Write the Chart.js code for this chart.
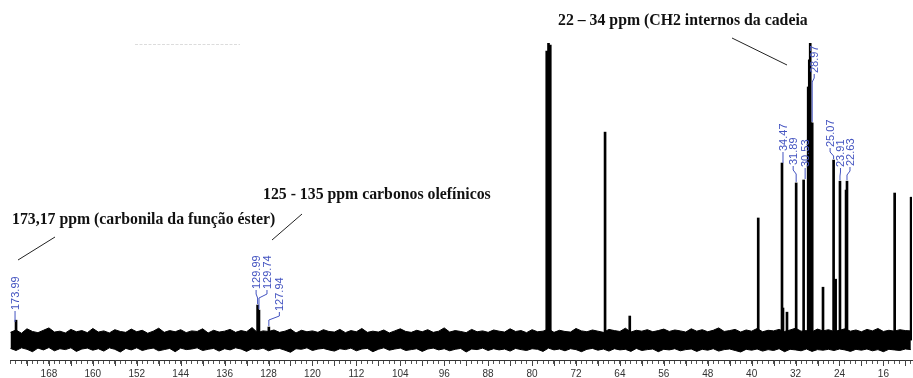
<!DOCTYPE html>
<html>
<head>
<meta charset="utf-8">
<script src="https://cdn.jsdelivr.net/npm/chart.js@4.4.1/dist/chart.umd.min.js"></script>
<style>
  html, body { margin: 0; padding: 0; background: #fff; overflow: hidden; }
  #wrap { width: 913px; height: 378px; position: relative; }
</style>
</head>
<body>
<div id="wrap"><canvas id="nmr"></canvas></div>
<script>
// 13C NMR spectrum, chemical shift in ppm (axis reversed)
const peakPpm = [173.99, 129.99, 129.74, 127.94, 77.32, 77.00, 76.68, 66.7, 62.2, 38.8,
                 34.47, 34.29, 33.56, 31.89, 30.53, 29.70, 29.50, 29.33, 29.15, 28.97,
                 27.0, 25.07, 24.70, 23.91, 22.80, 22.63, 13.95, 10.95];
const peakHeight = [6.7, 11.8, 10.1, 4.4, 97.3, 100, 99.3, 70.0, 8.1, 41.1,
                    59.6, 10.8, 9.4, 52.9, 53.9, 85.2, 94.3, 100, 73.1, 73.1,
                    17.8, 60.6, 20.5, 53.5, 50.5, 53.5, 49.5, 48.1];

// peaks that carry a printed shift label
const labelPpm = [173.99, 129.99, 129.74, 127.94, 34.47, 31.89, 30.53, 28.97, 25.07, 23.91, 22.63];

// baseline noise envelope, 1 ppm steps from 175 to 11
const noisePpm = [175, 174, 173, 172, 171, 170, 169, 168, 167, 166, 165, 164, 163, 162, 161,
                  160, 159, 158, 157, 156, 155, 154, 153, 152, 151, 150, 149, 148, 147, 146,
                  145, 144, 143, 142, 141, 140, 139, 138, 137, 136, 135, 134, 133, 132, 131,
                  130, 129, 128, 127, 126, 125, 124, 123, 122, 121, 120, 119, 118, 117, 116,
                  115, 114, 113, 112, 111, 110, 109, 108, 107, 106, 105, 104, 103, 102, 101,
                  100, 99, 98, 97, 96, 95, 94, 93, 92, 91, 90, 89, 88, 87, 86,
                  85, 84, 83, 82, 81, 80, 79, 78, 77, 76, 75, 74, 73, 72, 71,
                  70, 69, 68, 67, 66, 65, 64, 63, 62, 61, 60, 59, 58, 57, 56,
                  55, 54, 53, 52, 51, 50, 49, 48, 47, 46, 45, 44, 43, 42, 41,
                  40, 39, 38, 37, 36, 35, 34, 33, 32, 31, 30, 29, 28, 27, 26,
                  25, 24, 23, 22, 21, 20, 19, 18, 17, 16, 15, 14, 13, 12, 11];
const noiseUpper = [2.6, 3.4, 2.3, 3.8, 2.9, 2.5, 3.3, 4.1, 2.7, 3.0, 2.4, 3.6, 2.8, 3.2, 2.5,
                    3.9, 2.7, 3.1, 2.4, 3.5, 2.9, 2.6, 3.7, 2.8, 3.3, 2.3, 3.0, 4.0, 2.6, 3.2,
                    2.8, 3.5, 2.5, 3.1, 2.9, 3.8, 2.4, 3.3, 2.7, 3.0, 3.6, 2.6, 3.2, 2.8, 4.2,
                    2.5, 3.1, 2.9, 3.4, 2.6, 3.0, 3.7, 2.4, 3.3, 2.8, 3.1, 2.6, 3.5, 2.9, 2.7,
                    3.6, 2.5, 3.2, 2.8, 3.9, 2.6, 3.0, 2.7, 3.4, 2.4, 3.1, 3.8, 2.9, 2.6, 3.3,
                    2.8, 3.5, 2.6, 3.0, 4.1, 2.7, 3.2, 2.9, 2.5, 3.6, 2.8, 3.1, 2.6, 3.4, 3.0,
                    2.7, 3.8, 2.9, 3.2, 2.5, 3.5, 2.8, 3.0, 3.7, 2.6, 3.3, 2.9, 2.7, 3.9, 3.1,
                    2.8, 3.4, 3.0, 2.6, 3.6, 3.2, 2.9, 4.0, 2.7, 3.3, 3.0, 3.5, 2.8, 3.2, 3.7,
                    2.9, 3.4, 3.1, 2.7, 3.8, 3.0, 3.5, 2.8, 3.3, 4.1, 2.9, 3.2, 3.6, 2.7, 3.4,
                    3.0, 3.9, 2.8, 3.3, 3.1, 3.6, 2.9, 3.4, 4.0, 3.0, 3.2, 2.8, 3.7, 3.1, 3.5,
                    2.9, 3.3, 3.8, 3.0, 3.4, 2.8, 3.6, 3.1, 3.9, 2.9, 3.3, 3.0, 3.5, 3.2, 3.1];
const noiseLower = [-2.8, -3.5, -2.6, -3.1, -3.9, -2.7, -3.3, -2.5, -3.6, -2.9, -3.2, -2.6, -3.8, -3.0, -2.7,
                    -3.4, -2.9, -3.7, -2.6, -3.1, -4.0, -2.8, -3.3, -2.6, -3.5, -3.0, -2.7, -3.6, -3.2, -2.8,
                    -3.9, -2.7, -3.2, -3.0, -2.6, -3.5, -3.1, -2.8, -3.7, -2.9, -3.3, -2.6, -3.0, -3.8, -2.9,
                    -3.2, -2.7, -3.6, -3.0, -2.8, -3.4, -4.1, -2.9, -3.1, -2.6, -3.5, -3.0, -2.8, -3.3, -3.7,
                    -2.9, -3.2, -2.7, -3.6, -3.0, -2.8, -3.9, -3.1, -2.6, -3.4, -3.0, -2.7, -3.5, -3.2, -2.9,
                    -3.8, -3.0, -2.7, -3.3, -2.9, -3.6, -3.1, -2.8, -4.0, -3.0, -3.2, -2.7, -3.5, -2.9, -3.3,
                    -3.0, -3.7, -2.8, -3.2, -3.5, -2.9, -3.1, -3.8, -2.7, -3.3, -3.0, -3.6, -2.9, -3.2, -3.9,
                    -3.1, -2.8, -3.4, -3.0, -3.7, -2.9, -3.3, -3.1, -3.8, -2.8, -3.5, -3.2, -3.0, -3.9, -3.1,
                    -3.3, -2.9, -3.6, -3.2, -3.0, -3.8, -3.1, -3.4, -2.9, -3.7, -3.2, -3.0, -3.5, -4.0, -3.1,
                    -3.4, -3.0, -3.7, -3.2, -3.5, -2.9, -3.9, -3.1, -3.3, -3.6, -3.0, -3.8, -3.2, -3.4, -3.1,
                    -3.5, -3.0, -3.3, -3.8, -3.1, -3.4, -3.0, -3.6, -3.2, -3.9, -3.1, -3.3, -3.5, -3.0, -3.2];

const noteTexts = [
  '22 \u2013 34 ppm (CH2 internos da cadeia',
  '125 - 135 ppm carbonos olef\u00ednicos',
  '173,17 ppm (carbonila da fun\u00e7\u00e3o \u00e9ster)'
];

// pixel layout of the shift labels: offset from peak, bottom of text
const labelLayout = {
  '173.99': { dx: -1, bottom: 310 },
  '129.99': { dx: -1.5, bottom: 289 },
  '129.74': { dx: 8, bottom: 289 },
  '127.94': { dx: 10.5, bottom: 311 },
  '34.47': { dx: 1, bottom: 151 },
  '31.89': { dx: -3, bottom: 165 },
  '30.53': { dx: 1.5, bottom: 167 },
  '28.97': { dx: 2, bottom: 73 },
  '25.07': { dx: -3.5, bottom: 147 },
  '23.91': { dx: 0.5, bottom: 167 },
  '22.63': { dx: 3, bottom: 166 }
};

const noteLayout = [
  { x: 558, y: 21, line: [732, 38, 787, 65] },
  { x: 263, y: 195, line: [302, 214, 272, 240] },
  { x: 12, y: 220, line: [55, 237, 18, 260] }
];

const decorations = {
  id: 'decorations',
  afterDraw(chart) {
    const ctx = chart.ctx;
    const xs = chart.scales.x;
    const ys = chart.scales.y;
    const bottom = chart.chartArea.bottom;

    // longer ticks every 4 ppm
    ctx.save();
    ctx.strokeStyle = '#444';
    ctx.lineWidth = 1;
    for (let v = 12; v <= 172; v += 4) {
      const x = Math.round(xs.getPixelForValue(v)) + 0.5;
      ctx.beginPath();
      ctx.moveTo(x, bottom);
      ctx.lineTo(x, bottom + 6);
      ctx.stroke();
    }
    ctx.restore();

    // shift labels with connectors
    ctx.save();
    ctx.font = '11px "Liberation Sans", Arial, sans-serif';
    ctx.fillStyle = '#4353c0';
    ctx.strokeStyle = '#4353c0';
    ctx.lineWidth = 1;
    ctx.textAlign = 'left';
    ctx.textBaseline = 'middle';
    labelPpm.forEach(ppm => {
      const txt = ppm.toFixed(2);
      const lay = labelLayout[txt];
      let h = 0;
      peakPpm.forEach((p, i) => { if (Math.abs(p - ppm) < 0.001) h = peakHeight[i]; });
      const px = xs.getPixelForValue(ppm);
      const top = ys.getPixelForValue(h);
      const lx = px + lay.dx;
      const yb = lay.bottom;
      ctx.beginPath();
      if (top - 1 < yb + 12) {
        ctx.moveTo(lx, yb + 1);
        ctx.lineTo(lx, yb + 12);
      } else {
        ctx.moveTo(px, top - 1);
        ctx.lineTo(px, yb + 9);
        ctx.lineTo(lx, yb + 5);
        ctx.lineTo(lx, yb + 1);
      }
      ctx.stroke();
      ctx.save();
      ctx.translate(lx, yb);
      ctx.rotate(-Math.PI / 2);
      ctx.fillText(txt, 0, 0.5);
      ctx.restore();
    });
    ctx.restore();

    // assignment notes
    ctx.save();
    ctx.font = 'bold 15.8px "Liberation Serif", "Times New Roman", serif';
    ctx.fillStyle = '#111';
    ctx.strokeStyle = '#222';
    ctx.lineWidth = 1;
    ctx.textAlign = 'left';
    ctx.textBaseline = 'middle';
    noteTexts.forEach((t, i) => {
      const n = noteLayout[i];
      ctx.fillText(t, n.x, n.y);
      ctx.beginPath();
      ctx.moveTo(n.line[0], n.line[1]);
      ctx.lineTo(n.line[2], n.line[3]);
      ctx.stroke();
    });
    // faint leftover header trace
    ctx.strokeStyle = '#dcdcdc';
    ctx.setLineDash([3, 1.5]);
    ctx.beginPath();
    ctx.moveTo(135, 44.5);
    ctx.lineTo(240, 44.5);
    ctx.stroke();
    ctx.restore();
  }
};

new Chart(document.getElementById('nmr'), {
  data: {
    datasets: [
      {
        type: 'line',
        data: noisePpm.map((p, i) => ({ x: p, y: noiseLower[i] })),
        borderColor: '#000',
        borderWidth: 1,
        pointRadius: 0,
        fill: false
      },
      {
        type: 'line',
        data: noisePpm.map((p, i) => ({ x: p, y: noiseUpper[i] })),
        borderColor: '#000',
        borderWidth: 1,
        pointRadius: 0,
        backgroundColor: '#000',
        fill: '-1'
      },
      {
        type: 'bar',
        data: peakPpm.map((p, i) => ({ x: p, y: peakHeight[i] })),
        backgroundColor: '#000',
        borderWidth: 0,
        barThickness: 2
      }
    ]
  },
  options: {
    responsive: true,
    maintainAspectRatio: false,
    animation: false,
    layout: { padding: { left: 10, right: 1, top: 43, bottom: -6 } },
    plugins: {
      legend: { display: false },
      tooltip: { enabled: false }
    },
    scales: {
      x: {
        type: 'linear',
        reverse: true,
        offset: false,
        min: 10.79,
        max: 175.09,
        afterBuildTicks(scale) {
          const t = [];
          for (let v = 11; v <= 175; v++) t.push({ value: v });
          scale.ticks = t;
        },
        grid: { drawOnChartArea: false, offset: false, tickLength: 4, color: '#555' },
        border: { display: true, color: '#333' },
        ticks: {
          autoSkip: false,
          maxRotation: 0,
          minRotation: 0,
          padding: 4,
          color: '#333',
          font: { family: '"Liberation Sans", Arial, sans-serif', size: 10 },
          callback: v => (v % 8 === 0 ? String(v) : '')
        }
      },
      y: {
        display: false,
        min: -6.7,
        max: 100
      }
    }
  },
  plugins: [decorations]
});
</script>
</body>
</html>
